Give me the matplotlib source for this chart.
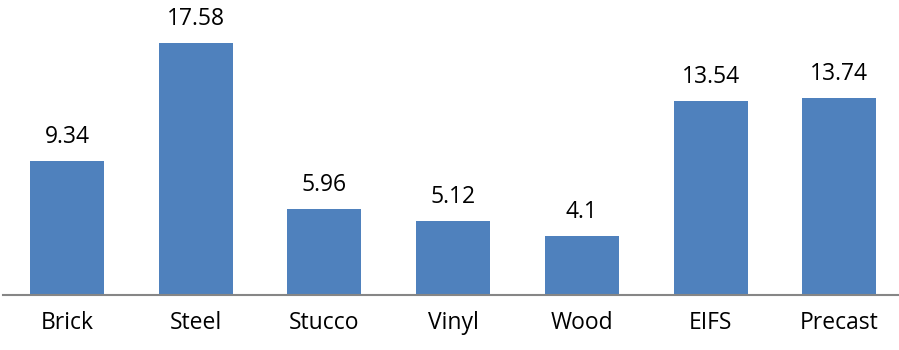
import matplotlib
matplotlib.use("Agg")
import matplotlib.pyplot as plt

categories = ["Brick", "Steel", "Stucco", "Vinyl", "Wood", "EIFS", "Precast"]
values = [9.34, 17.58, 5.96, 5.12, 4.1, 13.54, 13.74]
labels = ["9.34", "17.58", "5.96", "5.12", "4.1", "13.54", "13.74"]

plt.rcParams['font.family'] = ['Open Sans', 'DejaVu Sans']

fig = plt.figure(figsize=(8.99, 3.5), dpi=100)
ax = fig.add_axes([2.65/899, (350-294.5)/350, 901/899, 294.5/350])
x = range(len(categories))
bars = ax.bar(x, values, width=0.575, color="#4F81BD")
ax.set_xlim(-0.5, len(categories) - 0.5)
ax.set_ylim(0, 20.6)
for b, lab in zip(bars, labels):
    ax.annotate(lab, (b.get_x() + b.get_width()/2, b.get_height()),
                xytext=(0, 13), textcoords="offset points",
                ha="center", va="baseline", fontsize=16.5, color="#000000")
ax.set_xticks(list(x))
ax.set_xticklabels(categories, fontsize=16.5)
ax.tick_params(axis="x", length=0, pad=12)
ax.set_yticks([])
for s in ["top", "right", "left"]:
    ax.spines[s].set_visible(False)
ax.spines["bottom"].set_color("#868686")
ax.spines["bottom"].set_linewidth(1.5)
fig.savefig("out.png", dpi=100)
